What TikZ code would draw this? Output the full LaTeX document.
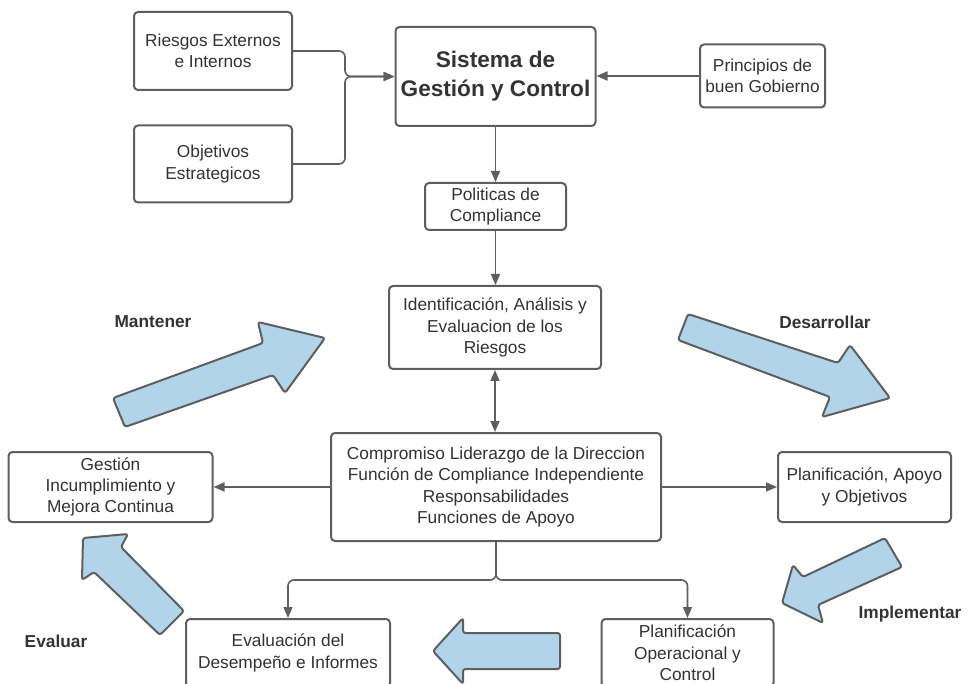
\documentclass[tikz,border=0pt]{standalone}
\usepackage{fontspec}
\setmainfont{Liberation Sans}
\usetikzlibrary{arrows.meta}
\definecolor{linec}{HTML}{5E5E5E}
\definecolor{txtc}{HTML}{333333}
\definecolor{fillb}{HTML}{B1D4EB}
\tikzset{
  box/.style={draw=linec, line width=2pt, rounded corners=4pt, fill=white, align=center, inner sep=0pt, text=txtc},
  conn/.style={draw=linec, line width=1.6pt, -{Triangle[length=11pt,width=9pt]}},
  blk/.style={draw=linec, line width=2pt, fill=fillb, rounded corners=2.5pt, line join=round},
  lbl/.style={font=\fontsize{17.3}{21}\selectfont\bfseries, text=txtc, inner sep=0pt}
}
\begin{document}
\begin{tikzpicture}[x=1pt, y=-1pt, font=\fontsize{17.3}{21.3}\selectfont]
\useasboundingbox (0,0) rectangle (969,684);
\clip (0,0) rectangle (969,684);
\fill[white] (0,0) rectangle (969,684);

% boxes
\node[box, minimum width=158pt, minimum height=78pt] (ries) at (213,51) {Riesgos Externos\\e Internos};
\node[box, minimum width=158pt, minimum height=77pt] (obj) at (213,164) {Objetivos\\Estrategicos};
\node[box, minimum width=200pt, minimum height=99pt, font=\fontsize{22.6}{29}\selectfont\bfseries] (sis) at (495.5,76.5) {Sistema de\\Gestión y Control};
\node[box, minimum width=125pt, minimum height=63pt] (prin) at (762.5,76) {Principios de\\buen Gobierno};
\node[box, minimum width=141pt, minimum height=47pt] (pol) at (495.5,206.5) {Politicas de\\Compliance};
\node[box, minimum width=212pt, minimum height=83pt] (iden) at (495,327.5) {Identificación, Análisis y\\Evaluacion de los\\Riesgos};
\node[box, minimum width=330pt, minimum height=108pt] (comp) at (496,487) {Compromiso Liderazgo de la Direccion\\Función de Compliance Independiente\\Responsabilidades\\Funciones de Apoyo};
\node[box, minimum width=204pt, minimum height=70pt] (gest) at (110.5,487) {Gestión\\Incumplimiento y\\Mejora Continua};
\node[box, minimum width=173pt, minimum height=70pt] (plan) at (864.5,487) {Planificación, Apoyo\\y Objetivos};
\node[box, minimum width=204pt, minimum height=68pt] (eval) at (288,653) {Evaluación del\\Desempeño e Informes};
\node[box, minimum width=172pt, minimum height=68pt] (planop) at (687.5,653) {Planificación\\Operacional y\\Control};

% connectors
\coordinate (j) at (345,76.5);
\draw[conn, rounded corners=6pt] (ries.east) -| (j) -- (sis.west);
\draw[conn, rounded corners=6pt] (obj.east) -| (j) -- (sis.west);
\draw[conn] (prin.west) -- (prin.west -| sis.east);
\draw[conn] (sis.south) -- (pol.north);
\draw[conn] (pol.south) -- (pol.south |- iden.north);
\draw[conn, {Triangle[length=11pt,width=9pt]}-{Triangle[length=11pt,width=9pt]}] (iden.south) -- (iden.south |- comp.north);
\draw[conn] (comp.west) -- (gest.east);
\draw[conn] (comp.east) -- (plan.west);
\coordinate (split) at (496,580);
\draw[conn, rounded corners=6pt] (comp.south) -- (split) -| (eval.north);
\draw[conn, rounded corners=6pt] (comp.south) -- (split) -| (planop.north);

% block arrows
\draw[blk] (113,398) -- (263,343) -- (258,322) -- (325,338) -- (285,393) -- (273,375) -- (125,427) -- cycle;
\draw[blk] (688,314) -- (838,363) -- (850,345) -- (890,398) -- (822,417) -- (830,397) -- (678,340) -- cycle;
\draw[blk] (885,538) -- (902,567) -- (818,605) -- (823,623) -- (782,603) -- (793,565) -- (803,577) -- cycle;
\draw[blk] (184,611) -- (121,547) -- (128,534) -- (83,538) -- (82,580) -- (94,572) -- (160,635) -- cycle;
\draw[blk] (560,633) -- (463,633) -- (463,618) -- (433,651) -- (463,684) -- (463,669) -- (560,669) -- cycle;

% labels
\node[lbl] (lmant) at (153,322) {Mantener};
\node[lbl] (ldes) at (825,322) {Desarrollar};
\node[lbl] (limp) at (910,614) {Implementar};
\node[lbl] (leval) at (56,641) {Evaluar};
\end{tikzpicture}
\end{document}
